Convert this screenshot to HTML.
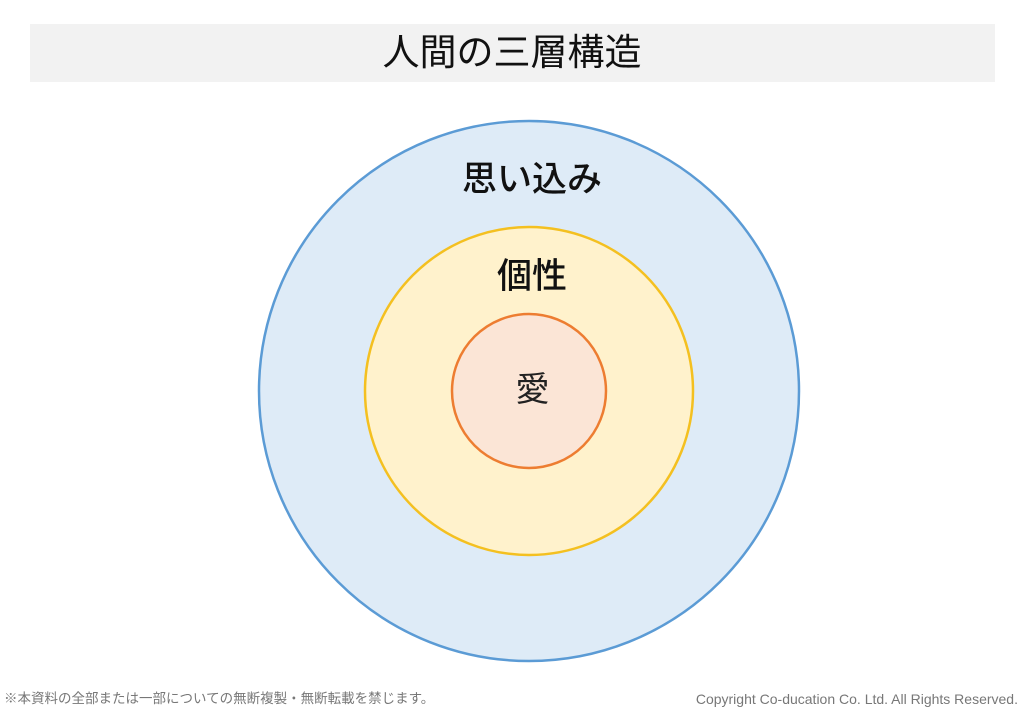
<!DOCTYPE html>
<html><head><meta charset="utf-8"><style>
body{margin:0;width:1024px;height:709px;background:#fff;position:relative;overflow:hidden;font-family:"Liberation Sans","Noto Sans CJK JP",sans-serif;}
.t{position:absolute;white-space:nowrap;}
</style></head><body>
<div style="position:absolute;left:30px;top:24px;width:965px;height:58px;background:#f2f2f2"></div>
<div class="t" style="left:0;width:1024px;text-align:center;top:29px;font-size:37px;line-height:48px;color:#111">人間の三層構造</div>
<svg width="1024" height="709" style="position:absolute;left:0;top:0">
<circle cx="529" cy="391" r="270" fill="#deebf7" stroke="#5b9bd5" stroke-width="2.5"/>
<circle cx="529" cy="391" r="164" fill="#fff2cc" stroke="#f4c020" stroke-width="2.5"/>
<circle cx="529" cy="391" r="77" fill="#fbe5d6" stroke="#ed7d31" stroke-width="2.5"/>
</svg>
<div class="t" style="left:0;width:1064px;text-align:center;top:159px;font-size:35px;line-height:42px;color:#111;font-weight:500">思い込み</div>
<div class="t" style="left:0;width:1064px;text-align:center;top:256px;font-size:35px;line-height:42px;color:#111;font-weight:500">個性</div>
<div class="t" style="left:0;width:1065px;text-align:center;top:370px;font-size:34px;line-height:40px;color:#222">愛</div>
<div class="t" style="left:4px;top:690px;font-size:13.5px;line-height:18px;color:#777">※本資料の全部または一部についての無断複製・無断転載を禁じます。</div>
<div class="t" style="right:6px;top:690px;font-size:14px;line-height:18px;color:#777">Copyright Co-ducation Co. Ltd. All Rights Reserved.</div>
</body></html>
